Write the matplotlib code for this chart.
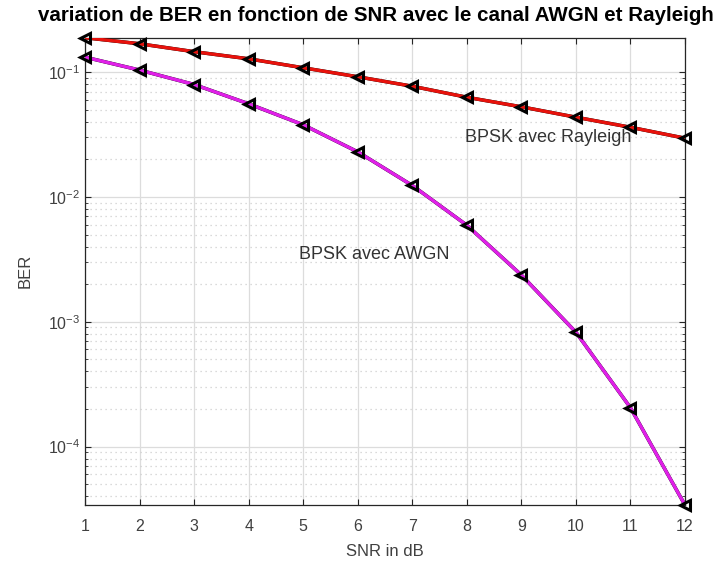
import numpy as np
import matplotlib
matplotlib.use("Agg")
import matplotlib.pyplot as plt
from matplotlib.ticker import LogLocator, NullFormatter

plt.rcParams['font.family'] = ['Liberation Sans', 'DejaVu Sans']

# data
snr_db = [1, 2, 3, 4, 5, 6, 7, 8, 9, 10, 11, 12]
ber_rayleigh = [0.189, 0.169, 0.146, 0.128, 0.1085, 0.0919, 0.0772, 0.0630, 0.0528, 0.0436, 0.0362, 0.0296]
ber_awgn = [0.132, 0.104, 0.0797, 0.0558, 0.0379, 0.0230, 0.01237, 0.00594, 0.00237, 0.000825, 0.000205, 3.4e-5]

fig = plt.figure(figsize=(7.21, 5.63), dpi=100)
ax = fig.add_axes([0.118, 0.103, 0.832, 0.830])

# black simulated curves with markers, coloured line on top
ax.semilogy(snr_db, ber_rayleigh, color='k', lw=2.5, zorder=3)
ax.semilogy(snr_db, ber_awgn, color='k', lw=2.5, zorder=3)
ax.semilogy(snr_db, ber_rayleigh, color='#e8120c', lw=2.4, zorder=4)
ax.semilogy(snr_db, ber_awgn, color='#e020e8', lw=2.4, zorder=4)
ax.semilogy(snr_db, ber_rayleigh, ls='none', marker='<', ms=7.5, mfc='none', mec='k', mew=2.2,
            zorder=5, clip_on=False)
ax.semilogy(snr_db, ber_awgn, ls='none', marker='<', ms=7.5, mfc='none', mec='k', mew=2.2,
            zorder=5, clip_on=False)

ax.set_xlim(1, 12)
ax.set_ylim(min(ber_awgn), max(ber_rayleigh))
ax.set_xticks(snr_db)
ax.yaxis.set_major_locator(LogLocator(base=10, numticks=10))
ax.yaxis.set_minor_locator(LogLocator(base=10, subs=np.arange(2, 10), numticks=20))
ax.yaxis.set_minor_formatter(NullFormatter())

ax.grid(True, which='major', color='#dcdcdc', lw=0.9, ls='-')
ax.grid(True, which='minor', axis='y', color='#cfcfcf', lw=0.9, ls=(0, (1, 3)))
ax.set_axisbelow(True)

for s in ax.spines.values():
    s.set_color('#262626')
    s.set_linewidth(0.9)
ax.tick_params(which='both', direction='in', top=True, right=True, colors='#262626',
               labelcolor='#404040', labelsize=11.5)
ax.tick_params(which='major', length=4)
ax.tick_params(which='minor', length=2.5)
ax.tick_params(axis='x', which='major', pad=10)

ax.set_xlabel('SNR in dB', fontsize=12, color='#404040', labelpad=7)
ax.set_ylabel('BER', fontsize=12, color='#404040', labelpad=11)
fig.text(0.522, 0.972, 'variation de BER en fonction de SNR avec le canal AWGN et Rayleigh',
         fontsize=14.8, fontweight='bold', ha='center', va='center')

ax.text(7.97, 0.030, 'BPSK avec Rayleigh', fontsize=13, color='#333333', va='center')
ax.text(4.93, 0.00346, 'BPSK avec AWGN', fontsize=13, color='#333333', va='center')

fig.savefig('out.png', dpi=100)
